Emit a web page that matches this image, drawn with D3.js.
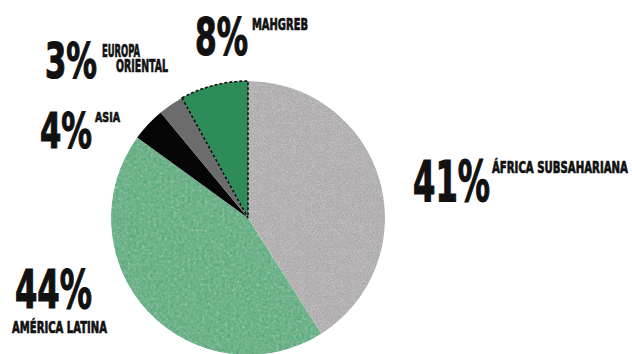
<!DOCTYPE html>
<html>
<head>
<meta charset="utf-8">
<script src="https://cdn.jsdelivr.net/npm/d3@7/dist/d3.min.js"></script>
<style>
  html, body { margin: 0; padding: 0; background: #fff; }
  svg { display: block; }
  .num, .lbl { font-family: "Liberation Sans Narrow", "DejaVu Sans Condensed", "Liberation Sans", sans-serif; font-weight: bold; fill: #111; stroke: #111; }
</style>
</head>
<body>
<svg id="chart" width="632" height="354"></svg>
<script>
// Regions of origin, clockwise from 12 o'clock
const categories = ["África subsahariana", "América Latina", "Asia", "Europa Oriental", "Mahgreb"];
const values = [41, 44, 4, 3, 8];
const percentLabels = ["41%", "44%", "4%", "3%", "8%"];
const nameLines = [["ÁFRICA SUBSAHARIANA"], ["AMÉRICA LATINA"], ["ASIA"], ["EUROPA", "ORIENTAL"], ["MAHGREB"]];
const sliceColors = ["#c9c7c7", "#8ec4a3", "#050505", "#6c6c6c", "#2e8c59"];

const svg = d3.select("#chart");
const cx = 248, cy = 218, radius = 137;

// grain filter: fractal noise added to each slice's own colour
const defs = svg.append("defs");
function grain(id, freq, amount, seed) {
  const f = defs.append("filter").attr("id", id)
    .attr("x", "0").attr("y", "0").attr("width", "100%").attr("height", "100%");
  f.append("feTurbulence").attr("type", "fractalNoise").attr("baseFrequency", freq)
    .attr("numOctaves", 3).attr("seed", seed).attr("result", "noise");
  f.append("feColorMatrix").attr("in", "noise").attr("type", "saturate").attr("values", 0).attr("result", "gnoise");
  f.append("feComposite").attr("in", "SourceGraphic").attr("in2", "gnoise").attr("operator", "arithmetic")
    .attr("k1", 0).attr("k2", 1).attr("k3", amount).attr("k4", -amount / 2).attr("result", "mix");
  f.append("feComposite").attr("in", "mix").attr("in2", "SourceAlpha").attr("operator", "in");
}
grain("grainFine", 0.9, 0.6, 4);
grain("grainSoft", 0.35, 0.5, 7);
const sliceFilters = ["url(#grainFine)", "url(#grainSoft)", null, null, null];

const pie = d3.pie().sort(null).value(d => d).startAngle(0).endAngle(2 * Math.PI);
const arcs = pie(values);
const arc = d3.arc().innerRadius(0).outerRadius(radius);

const g = svg.append("g").attr("transform", `translate(${cx},${cy})`);
g.selectAll("path.slice").data(arcs).join("path")
  .attr("class", "slice")
  .attr("d", arc)
  .attr("fill", (d, i) => sliceColors[i])
  .attr("filter", (d, i) => sliceFilters[i]);

// Mahgreb wedge carries a dashed outline
g.append("path")
  .attr("d", arc(arcs[4]))
  .attr("fill", "none")
  .attr("stroke", "#111")
  .attr("stroke-width", 1.6)
  .attr("stroke-dasharray", "3,2");

// Label layout: big percentage plus small region name
const layout = [
  { x: 413, y: 202, w: 77, size: 56, names: [{ x: 492, y: 173, w: 136, size: 15 }] },
  { x: 15, y: 308, w: 77, size: 53, names: [{ x: 12, y: 333, w: 95, size: 16 }] },
  { x: 40, y: 148, w: 52, size: 50, names: [{ x: 95, y: 122, w: 25, size: 14 }] },
  { x: 45, y: 78, w: 52, size: 49, names: [{ x: 102, y: 57, w: 38, size: 17 }, { x: 116, y: 72, w: 52, size: 17 }] },
  { x: 195, y: 55, w: 53, size: 52, names: [{ x: 252, y: 30, w: 56, size: 16 }] }
];

// condensed type: squeeze each text horizontally to its set width
function squeezed(parent, cls, txt, x, y, w, size, sw) {
  const t = parent.append("text").attr("class", cls)
    .attr("font-size", size).attr("stroke-width", sw).text(txt);
  const natural = t.node().getComputedTextLength();
  t.attr("transform", `translate(${x},${y}) scale(${w / natural},1)`);
  return t;
}

const labels = svg.append("g");
percentLabels.forEach((p, i) => {
  const L = layout[i];
  squeezed(labels, "num", p, L.x, L.y, L.w, L.size, 1.2);
  nameLines[i].forEach((line, j) => {
    const N = L.names[j];
    squeezed(labels, "lbl", line, N.x, N.y, N.w, N.size, 0.7);
  });
});
</script>
</body>
</html>
